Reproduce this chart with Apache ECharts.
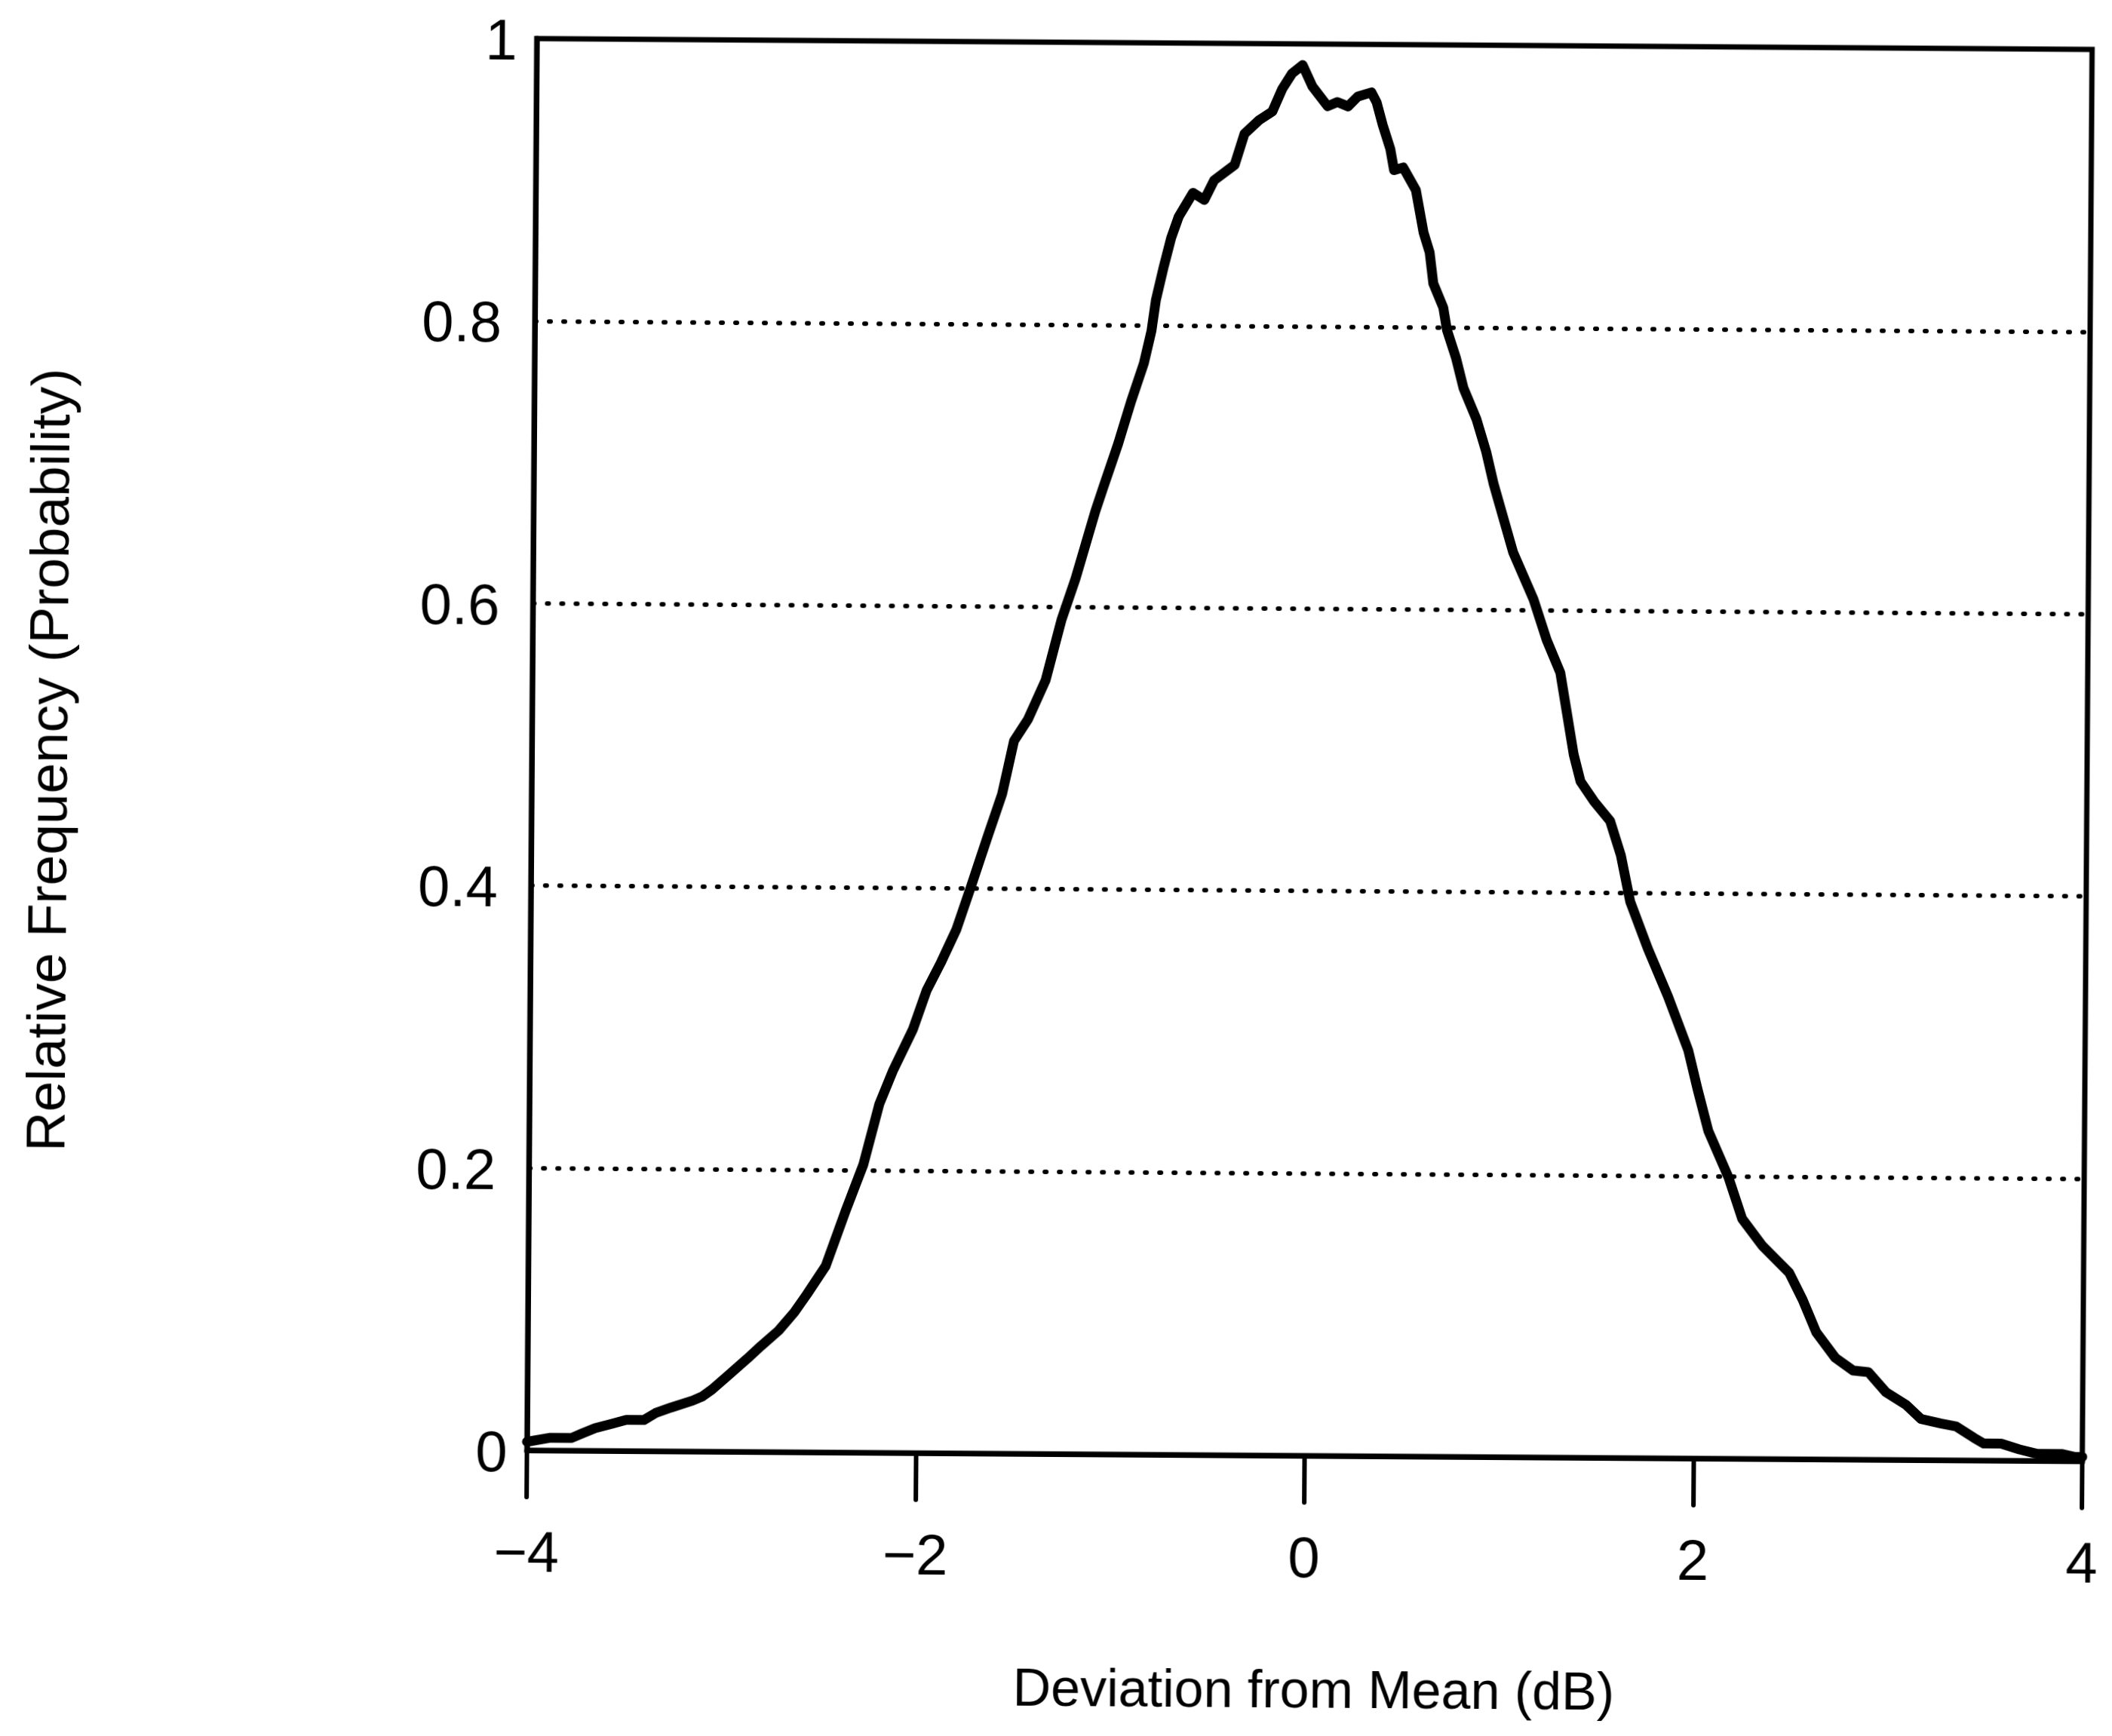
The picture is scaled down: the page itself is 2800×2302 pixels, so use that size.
<!DOCTYPE html>
<html>
<head>
<meta charset="utf-8">
<title>Relative Frequency vs Deviation from Mean</title>
<script src="https://cdn.jsdelivr.net/npm/echarts@6/dist/echarts.min.js"></script>
<style>
  html, body { margin: 0; padding: 0; background: #ffffff; }
  #chart {
    width: 2800px;
    height: 2302px;
    background: #ffffff;
    transform: rotate(0.4deg);
    transform-origin: 50% 50%;
  }
</style>
</head>
<body>
<div id="chart"></div>
<script>
// Deviation from mean (dB) sampled along the measured distribution
const deviationDb = [
  -4.00, -3.88, -3.77, -3.72, -3.65, -3.57, -3.49, -3.40, -3.34, -3.26,
  -3.15, -3.10, -3.05, -2.96, -2.87, -2.80, -2.71, -2.63, -2.565, -2.47,
  -2.37, -2.28, -2.20, -2.13, -2.03, -1.96, -1.89, -1.81, -1.74, -1.65,
  -1.58, -1.52, -1.45, -1.36, -1.28, -1.21, -1.11, -1.07, -0.995, -0.930,
  -0.866, -0.828, -0.806, -0.768, -0.730, -0.692, -0.619, -0.561, -0.511, -0.406,
  -0.357, -0.280, -0.214, -0.164, -0.114, -0.060, -0.009, 0.070, 0.120, 0.175,
  0.225, 0.295, 0.322, 0.354, 0.394, 0.414, 0.461, 0.527, 0.568, 0.600,
  0.620, 0.672, 0.692, 0.740, 0.779, 0.847, 0.898, 0.938, 1.040, 1.146,
  1.216, 1.287, 1.323, 1.359, 1.395, 1.465, 1.549, 1.605, 1.655, 1.747,
  1.853, 1.959, 2.009, 2.065, 2.171, 2.242, 2.347, 2.486, 2.556, 2.627,
  2.726, 2.819, 2.897, 2.987, 3.092, 3.170, 3.271, 3.349, 3.442, 3.493,
  3.582, 3.676, 3.765, 3.893, 3.959, 4.000
];

// Relative frequency (probability) at each deviation
const relFrequency = [
  0.006, 0.009, 0.009, 0.012, 0.016, 0.019, 0.022, 0.022, 0.027, 0.031,
  0.036, 0.039, 0.044, 0.055, 0.066, 0.075, 0.086, 0.099, 0.112, 0.132,
  0.171, 0.204, 0.247, 0.271, 0.300, 0.328, 0.347, 0.371, 0.400, 0.438,
  0.467, 0.505, 0.520, 0.548, 0.591, 0.620, 0.668, 0.685, 0.716, 0.746,
  0.773, 0.796, 0.818, 0.841, 0.862, 0.877, 0.894, 0.889, 0.903, 0.914,
  0.936, 0.946, 0.952, 0.968, 0.979, 0.985, 0.970, 0.956, 0.959, 0.956,
  0.963, 0.966, 0.959, 0.943, 0.926, 0.911, 0.913, 0.897, 0.867, 0.853,
  0.831, 0.814, 0.798, 0.778, 0.757, 0.735, 0.712, 0.689, 0.641, 0.608,
  0.579, 0.556, 0.527, 0.498, 0.479, 0.465, 0.451, 0.427, 0.394, 0.361,
  0.327, 0.289, 0.261, 0.232, 0.199, 0.170, 0.151, 0.132, 0.113, 0.090,
  0.072, 0.063, 0.062, 0.048, 0.039, 0.029, 0.026, 0.024, 0.016, 0.012,
  0.012, 0.008, 0.005, 0.005, 0.003, 0.003
];

// Axis ranges and titles
const xRange = [-4, 4];
const xStep = 2;
const yRange = [0, 1];
const yStep = 0.2;
const xTitle = 'Deviation from Mean (dB)';
const yTitle = 'Relative Frequency (Probability)';

const points = deviationDb.map((d, i) => [d, relFrequency[i]]);

const ink = '#000000';
const font = '"Liberation Sans", Arial, sans-serif';
const labelText = { color: ink, fontFamily: font, fontSize: 76 };

const chart = echarts.init(document.getElementById('chart'), null, { renderer: 'canvas' });

chart.setOption({
  backgroundColor: '#ffffff',
  animation: false,
  grid: {
    left: 704,
    right: 34,
    top: 56,
    bottom: 374,
    show: true,
    borderColor: ink,
    borderWidth: 7,
    backgroundColor: 'transparent'
  },
  xAxis: {
    type: 'value',
    min: xRange[0],
    max: xRange[1],
    interval: xStep,
    name: xTitle,
    nameLocation: 'middle',
    nameGap: 280,
    nameTextStyle: { color: ink, fontFamily: font, fontSize: 70, padding: [0, 0, 0, 28] },
    axisLine: { show: true, onZero: false, lineStyle: { color: ink, width: 7 } },
    axisTick: { show: true, inside: false, length: 62, lineStyle: { color: ink, width: 6, cap: 'round' } },
    axisLabel: {
      ...labelText,
      margin: 102,
      formatter: v => String(v).replace('-', '\u2212')
    },
    splitLine: { show: false }
  },
  yAxis: {
    type: 'value',
    min: yRange[0],
    max: yRange[1],
    interval: yStep,
    name: yTitle,
    nameLocation: 'middle',
    nameRotate: 90,
    nameGap: 600,
    nameTextStyle: { color: ink, fontFamily: font, fontSize: 73, padding: [0, 50, 0, 0] },
    axisLine: { show: true, onZero: false, lineStyle: { color: ink, width: 7 } },
    axisTick: { show: false },
    axisLabel: {
      ...labelText,
      margin: 26,
      formatter: v => (v === 0 || v === 1) ? '{int|' + v + '}' : '{dec|' + v.toFixed(1) + '}',
      rich: {
        int: { ...labelText, padding: [14, 0, 0, 0] },
        dec: { ...labelText, padding: [14, 18, 0, 0] }
      }
    },
    splitLine: {
      show: true,
      showMinLine: false,
      showMaxLine: false,
      lineStyle: { color: ink, width: 6, type: [2, 17], cap: 'round' }
    }
  },
  series: [{
    type: 'line',
    data: points,
    showSymbol: false,
    smooth: false,
    clip: true,
    lineStyle: { color: ink, width: 13, join: 'round', cap: 'round' }
  }]
});
</script>
</body>
</html>
